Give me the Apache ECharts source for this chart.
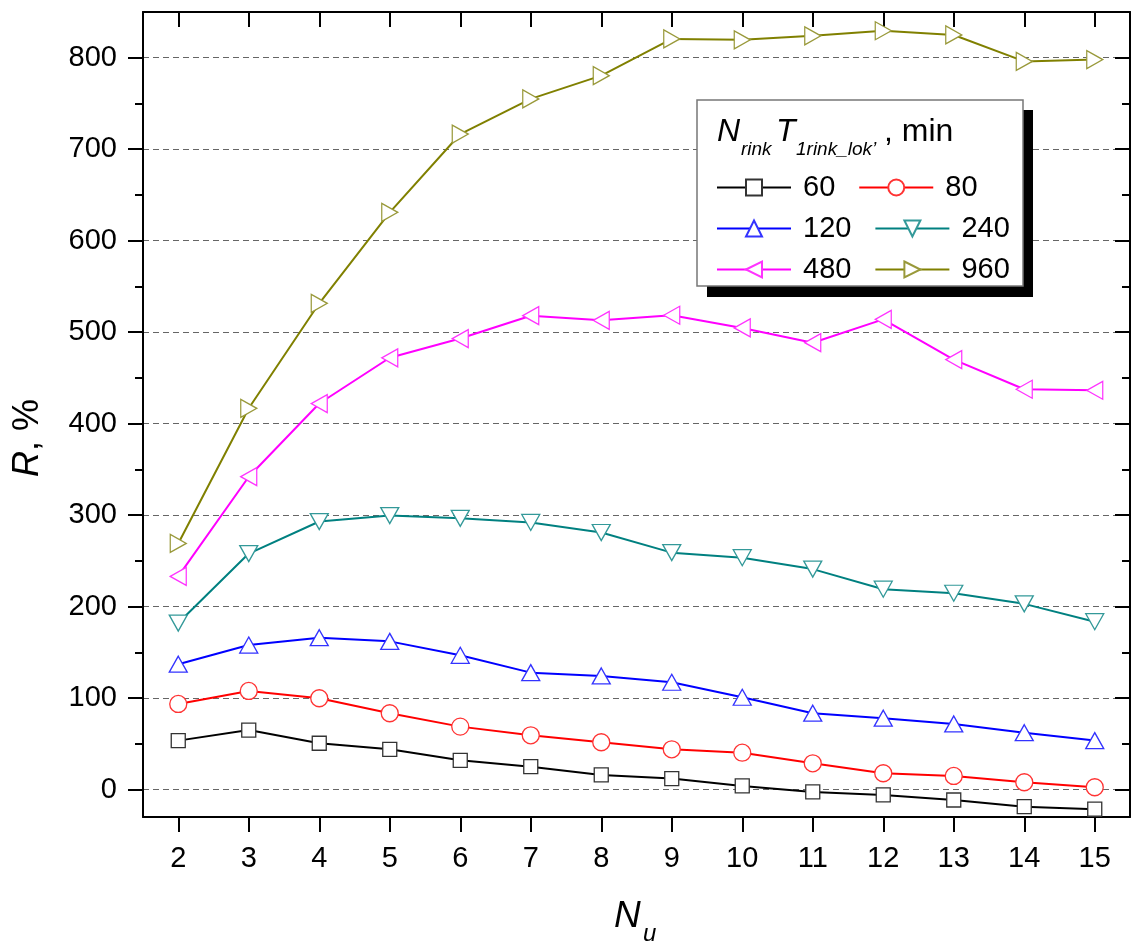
<!DOCTYPE html>
<html>
<head>
<meta charset="utf-8">
<script src="https://cdn.jsdelivr.net/npm/echarts@6/dist/echarts.min.js"></script>
<style>
html,body{margin:0;padding:0;background:#fff;}
#chart{width:1131px;height:942px;}
</style>
</head>
<body>
<div id="chart"></div>
<script>
// ---- data ----
var categories = ['2','3','4','5','6','7','8','9','10','11','12','13','14','15'];
var yTicks = [0,100,200,300,400,500,600,700,800];
var yMinorTicks = [50,150,250,350,450,550,650,750];
var seriesNames = ['60','80','120','240','480','960'];
var s60  = [53.5, 65, 50.6, 44, 32, 25, 16, 12, 4, -2.6, -5.9, -11.4, -18.7, -21.5];
var s80  = [93.6, 107.8, 99.8, 83.4, 68.8, 59.3, 51.7, 44, 40.3, 28.7, 17.8, 14.9, 8, 2.5];
var s120 = [137, 158, 166, 162, 146.8, 127.8, 124.2, 117.3, 100.9, 83.5, 78, 71.7, 62.2, 53.5];
var s240 = [182, 258, 293, 299.5, 296.5, 292, 281, 259, 253.5, 241, 219, 214.6, 203, 183.5];
var s480 = [233, 342, 422, 472, 493, 518, 513, 518.5, 504.6, 488.5, 514, 470, 437.6, 436.5];
var s960 = [269, 416.8, 531.6, 631, 716.6, 755, 780.4, 820.5, 819.6, 824, 829.5, 824.9, 796, 798];

var FONT = 'Liberation Sans, Arial, sans-serif';
var colors = ['#000000','#ff0000','#0000ff','#008080','#ff00ff','#808000'];
var markerBorder = ['#333333','#ff3333','#3333ff','#339999','#ff33ff','#99993a'];
var symbols = ['rect','circle',
  'path://M5,0 L10,10 L0,10 Z',
  'path://M0,0 L10,0 L5,10 Z',
  'path://M0,5 L10,0 L10,10 Z',
  'path://M0,0 L10,5 L0,10 Z'];
var sizes = [14, 17, [18,16], [18,16], [16,18], [16,18]];
var allData = [s60, s80, s120, s240, s480, s960];

var series = allData.map(function(d, i){
  return {
    name: seriesNames[i], type: 'line', data: d,
    xAxisIndex: 0, yAxisIndex: 0,
    color: colors[i],
    symbol: symbols[i], symbolSize: sizes[i], showAllSymbol: true,
    lineStyle: {color: colors[i], width: 2},
    itemStyle: {color: '#ffffff', borderColor: markerBorder[i], borderWidth: 1.3},
    emphasis: {disabled: true},
    animation: false, z: 3
  };
});

var grid = {left: 143, top: 12, width: 987, height: 805};
var axisLineStyle = {color: '#000', width: 2};

function legendRow(names, top){
  return {
    data: names, orient: 'horizontal', left: 716, top: top,
    itemWidth: 74, itemHeight: 20, itemGap: 23, padding: 0,
    selectedMode: false, z: 20,
    textStyle: {fontFamily: FONT, fontSize: 29, color: '#000', padding: [0,0,0,7]}
  };
}

var option = {
  backgroundColor: '#fff',
  animation: false,
  grid: grid,
  legend: [
    legendRow(['60','80'], 173),
    legendRow(['120','240'], 214),
    legendRow(['480','960'], 255)
  ],
  xAxis: [
    {type: 'category', data: categories, position: 'bottom', boundaryGap: true,
     axisLine: {show: true, lineStyle: axisLineStyle, onZero: false},
     axisTick: {show: true, alignWithLabel: true, interval: 0, length: 15, lineStyle: {color:'#000', width: 2}},
     axisLabel: {interval: 0, margin: 27, fontFamily: FONT, fontSize: 29, color: '#000'},
     splitLine: {show: false}},
    {type: 'category', data: categories, position: 'top', boundaryGap: true,
     axisLine: {show: true, lineStyle: axisLineStyle, onZero: false},
     axisTick: {show: true, inside: true, alignWithLabel: true, interval: 0, length: 15, lineStyle: {color:'#000', width: 2}},
     axisLabel: {show: false}, splitLine: {show: false}}
  ],
  yAxis: [
    {type: 'value', min: -30, max: 850, position: 'left',
     axisLine: {show: true, lineStyle: axisLineStyle, onZero: false},
     axisTick: {show: true, length: 15, customValues: yTicks, lineStyle: {color:'#000', width: 2}},
     axisLabel: {customValues: yTicks, margin: 26, fontFamily: FONT, fontSize: 29, color: '#000'},
     splitLine: {show: true, lineStyle: {color: '#666', width: 1, type: [6,4]}}},
    {type: 'value', min: -30, max: 850, position: 'left',
     axisLine: {show: false},
     axisTick: {show: true, length: 8, customValues: yMinorTicks, lineStyle: {color:'#000', width: 2}},
     axisLabel: {show: false}, splitLine: {show: false}},
    {type: 'value', min: -30, max: 850, position: 'right',
     axisLine: {show: true, lineStyle: axisLineStyle, onZero: false},
     axisTick: {show: true, inside: true, length: 15, customValues: yTicks, lineStyle: {color:'#000', width: 2}},
     axisLabel: {show: false}, splitLine: {show: false}},
    {type: 'value', min: -30, max: 850, position: 'right',
     axisLine: {show: false},
     axisTick: {show: true, inside: true, length: 8, customValues: yMinorTicks, lineStyle: {color:'#000', width: 2}},
     axisLabel: {show: false}, splitLine: {show: false}}
  ],
  graphic: [
    // legend box shadow and box
    {type: 'rect', z: 10, shape: {x: 707, y: 110, width: 326, height: 187}, style: {fill: '#000'}},
    {type: 'rect', z: 11, shape: {x: 697, y: 100, width: 326, height: 186}, style: {fill: '#fff', stroke: '#777', lineWidth: 1.5}},
    // legend title
    {type: 'text', z: 12, x: 717, y: 116, style: {text: 'N', fontFamily: FONT, fontSize: 32, fontStyle: 'italic', fill: '#000', verticalAlign: 'top'}},
    {type: 'text', z: 12, x: 741, y: 140, style: {text: 'rink', fontFamily: FONT, fontSize: 19, fontStyle: 'italic', fill: '#000', verticalAlign: 'top'}},
    {type: 'text', z: 12, x: 776, y: 116, style: {text: 'T', fontFamily: FONT, fontSize: 32, fontStyle: 'italic', fill: '#000', verticalAlign: 'top'}},
    {type: 'text', z: 12, x: 796, y: 140, style: {text: '1rink_lok\u2019', fontFamily: FONT, fontSize: 19, fontStyle: 'italic', fill: '#000', verticalAlign: 'top'}},
    {type: 'text', z: 12, x: 884, y: 116, style: {text: ', min', fontFamily: FONT, fontSize: 32, fill: '#000', verticalAlign: 'top'}},
    // axis titles
    {type: 'text', z: 12, x: 28, y: 438, rotation: Math.PI/2,
     style: {text: '{i|R}{n|, %}', align: 'center', verticalAlign: 'middle',
       rich: {i: {fontFamily: FONT, fontSize: 36, fontStyle: 'italic', fill: '#000'},
              n: {fontFamily: FONT, fontSize: 36, fill: '#000'}}}},
    {type: 'text', z: 12, x: 614, y: 898, style: {text: 'N', fontFamily: FONT, fontSize: 37, fontStyle: 'italic', fill: '#000', verticalAlign: 'top'}},
    {type: 'text', z: 12, x: 643, y: 922, style: {text: 'u', fontFamily: FONT, fontSize: 24, fontStyle: 'italic', fill: '#000', verticalAlign: 'top'}}
  ],
  series: series
};

var chart = echarts.init(document.getElementById('chart'), null, {renderer: 'canvas'});
chart.setOption(option);
</script>
</body>
</html>
